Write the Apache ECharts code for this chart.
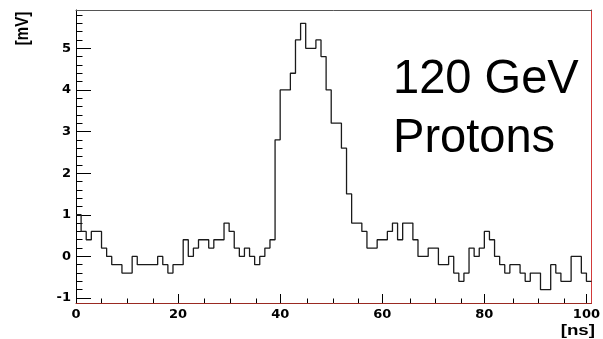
<!DOCTYPE html>
<html>
<head>
<meta charset="utf-8">
<script src="https://cdn.jsdelivr.net/npm/echarts@6/dist/echarts.min.js"></script>
<style>
html,body{margin:0;padding:0;background:#fff;}
#chart{width:603px;height:339px;}
</style>
</head>
<body>
<div id="chart"></div>
<script>
// Waveform: one value per 1 ns bin, starting at 0 ns
var binWidthNs = 1;
var signalMv = [
  1.0, 0.6, 0.4, 0.6, 0.6, 0.2, 0.0, -0.2, -0.2, -0.4,
  -0.4, 0.0, -0.2, -0.2, -0.2, -0.2, 0.0, -0.2, -0.4, -0.2,
  -0.2, 0.4, 0.0, 0.2, 0.4, 0.4, 0.2, 0.4, 0.4, 0.8,
  0.6, 0.2, 0.0, 0.2, 0.0, -0.2, 0.0, 0.2, 0.4, 2.8,
  4.0, 4.0, 4.4, 5.2, 5.6, 5.0, 5.0, 5.2, 4.8, 4.0,
  3.2, 3.2, 2.6, 1.5, 0.8, 0.8, 0.6, 0.2, 0.2, 0.4,
  0.4, 0.6, 0.8, 0.4, 0.8, 0.8, 0.4, 0.0, 0.0, 0.2,
  0.2, -0.2, -0.2, 0.0, -0.4, -0.6, -0.4, 0.2, 0.0, 0.2,
  0.6, 0.4, 0.0, -0.2, -0.4, -0.2, -0.2, -0.4, -0.6, -0.4,
  -0.4, -0.8, -0.8, -0.2, -0.4, -0.6, -0.6, 0.0, 0.0, -0.4,
  -0.6
];
var xMajorTicks = [0, 20, 40, 60, 80, 100];
var xMinorTicks = [5, 10, 15, 25, 30, 35, 45, 50, 55, 65, 70, 75, 85, 90, 95];
var yMajorTicks = [-1, 0, 1, 2, 3, 4, 5];
var yMinorTicks = [-0.8, -0.6, -0.4, -0.2, 0.2, 0.4, 0.6, 0.8, 1.2, 1.4, 1.6, 1.8,
  2.2, 2.4, 2.6, 2.8, 3.2, 3.4, 3.6, 3.8, 4.2, 4.4, 4.6, 4.8, 5.2, 5.4, 5.6, 5.8];
var xRange = [0, 101];
var yRange = [-1.12, 5.92];

// step data: each bin drawn from its left edge to its right edge
var stepData = signalMv.map(function (v, i) { return [i * binWidthNs, v]; });
stepData.push([signalMv.length * binWidthNs, signalMv[signalMv.length - 1]]);

var labelFont = { fontFamily: 'DejaVu Sans', fontWeight: 'bold', fontSize: 13, color: '#000' };
var gridBox = { left: 76, right: 8, top: 10, bottom: 36, containLabel: false };

function hiddenParts() {
  return { axisTick: { show: false }, axisLabel: { show: false }, splitLine: { show: false } };
}

var chart = echarts.init(document.getElementById('chart'), null, { renderer: 'canvas' });
chart.setOption({
  backgroundColor: '#fff',
  animation: false,
  grid: [Object.assign({}, gridBox), Object.assign({}, gridBox)],
  xAxis: [
    {
      gridIndex: 0, type: 'value', position: 'bottom', min: xRange[0], max: xRange[1],
      axisLine: { show: true, onZero: false, lineStyle: { color: '#9a2a22', width: 1 } },
      axisTick: { show: true, inside: true, length: 9, customValues: xMajorTicks, lineStyle: { color: '#000', width: 1 } },
      axisLabel: Object.assign({ show: true, margin: 5, customValues: xMajorTicks }, labelFont),
      splitLine: { show: false }
    },
    Object.assign({
      gridIndex: 0, type: 'value', position: 'top', min: xRange[0], max: xRange[1],
      axisLine: { show: true, onZero: false, lineStyle: { color: '#555', width: 1 } }
    }, hiddenParts()),
    {
      gridIndex: 1, type: 'value', position: 'bottom', min: xRange[0], max: xRange[1],
      axisLine: { show: false, onZero: false },
      axisTick: { show: true, inside: true, length: 4.5, customValues: xMinorTicks, lineStyle: { color: '#000', width: 1 } },
      axisLabel: { show: false },
      splitLine: { show: false }
    }
  ],
  yAxis: [
    {
      gridIndex: 0, type: 'value', position: 'left', min: yRange[0], max: yRange[1],
      axisLine: { show: true, onZero: false, lineStyle: { color: '#000', width: 1 } },
      axisTick: { show: true, inside: true, length: 15, customValues: yMajorTicks, lineStyle: { color: '#000', width: 1 } },
      axisLabel: Object.assign({ show: true, margin: 5, customValues: yMajorTicks }, labelFont),
      splitLine: { show: false }
    },
    Object.assign({
      gridIndex: 0, type: 'value', position: 'right', min: yRange[0], max: yRange[1],
      axisLine: { show: true, onZero: false, lineStyle: { color: '#d23a3a', width: 1 } }
    }, hiddenParts()),
    {
      gridIndex: 1, type: 'value', position: 'left', min: yRange[0], max: yRange[1],
      axisLine: { show: false, onZero: false },
      axisTick: { show: true, inside: true, length: 6.5, customValues: yMinorTicks, lineStyle: { color: '#000', width: 1 } },
      axisLabel: { show: false },
      splitLine: { show: false }
    }
  ],
  series: [{
    type: 'line',
    xAxisIndex: 0, yAxisIndex: 0,
    step: 'end',
    data: stepData,
    showSymbol: false,
    symbol: 'none',
    lineStyle: { color: '#1a1a1a', width: 1.3 },
    clip: true
  }],
  graphic: [
    { type: 'text', x: 393, y: 80, scaleX: 0.98,
      style: { text: '120 GeV', font: '48px "Liberation Sans"', fill: '#000', textAlign: 'left', textVerticalAlign: 'middle' } },
    { type: 'text', x: 393, y: 139, scaleX: 0.98,
      style: { text: 'Protons', font: '48px "Liberation Sans"', fill: '#000', textAlign: 'left', textVerticalAlign: 'middle' } },
    { type: 'text', x: 595, y: 331, scaleX: 1.25,
      style: { text: '[ns]', font: 'bold 15px "Liberation Sans"', fill: '#000', textAlign: 'right', textVerticalAlign: 'middle' } },
    { type: 'text', x: 23, y: 28.5, rotation: Math.PI / 2, scaleY: 1.2,
      style: { text: '[mV]', font: 'bold 15px "Liberation Sans"', fill: '#000', textAlign: 'center', textVerticalAlign: 'middle' } }
  ]
});
</script>
</body>
</html>
